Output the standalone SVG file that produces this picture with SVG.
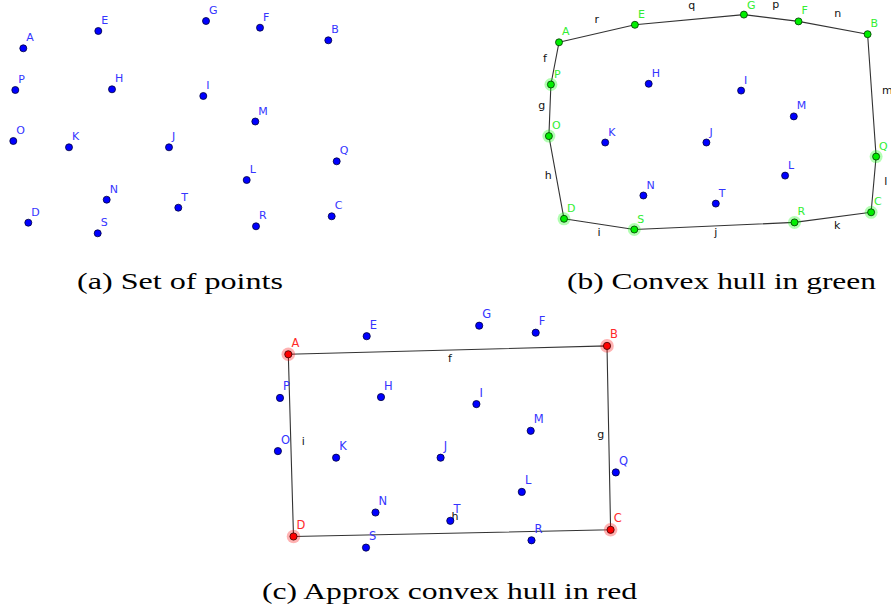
<svg xmlns="http://www.w3.org/2000/svg" width="891" height="609" viewBox="0 0 891 609">
<style>
.bg{fill:#ffffff}
.pt{fill:#0000ff;stroke:#00003a;stroke-width:0.8}
.gp{fill:#00ee00;stroke:#003300;stroke-width:0.8}
.rp{fill:#ff0000;stroke:#3a0000;stroke-width:0.8}
.gh{fill:#00ff00;opacity:0.3}
.rh{fill:#ff0000;opacity:0.3}
.lb{font-family:"DejaVu Sans",sans-serif;font-size:11px;fill:#3535ff}
.lbc{font-family:"DejaVu Sans",sans-serif;font-size:11.5px;fill:#3535ff}
.lg{font-family:"DejaVu Sans",sans-serif;font-size:11px;fill:#33ee33}
.lr{font-family:"DejaVu Sans",sans-serif;font-size:11.5px;fill:#ff2a2a}
.el{font-family:"DejaVu Sans",sans-serif;font-size:11px;fill:#111111;text-anchor:middle}
.hull{fill:none;stroke:#333333;stroke-width:1.1;stroke-linejoin:round}
.cap{font-family:"Liberation Serif","DejaVu Serif",serif;font-size:24px;fill:#000000;text-anchor:middle}
</style>
<rect class="bg" x="0" y="0" width="891" height="609"/>

<!-- connectors -->
<g id="connectors">
  <polygon class="hull" points="559,42.3 634.9,24.8 743.9,14.6 798.5,21.4 867.6,34.2 876.1,156.6 871.1,212.3 794.5,222.4 634.3,229.5 564,218.8 548.9,136.1 550.9,84.5"/>
  <polygon class="hull" points="288.3,354.3 607,345.9 610.6,529.8 293.5,536.5"/>
  <text class="el" x="691.7" y="8.5">q</text>
  <text class="el" x="596.7" y="23">r</text>
  <text class="el" x="775.7" y="8">p</text>
  <text class="el" x="837.7" y="17">n</text>
  <text class="el" x="882" y="94" style="text-anchor:start">m</text>
  <text class="el" x="545" y="61.5">f</text>
  <text class="el" x="541.7" y="108.5">g</text>
  <text class="el" x="548.3" y="179">h</text>
  <text class="el" x="599" y="236">i</text>
  <text class="el" x="715.7" y="235.5">j</text>
  <text class="el" x="837.3" y="229">k</text>
  <text class="el" x="885.7" y="185">l</text>
  <text class="el" x="450" y="361.5">f</text>
  <text class="el" x="600.7" y="437.5">g</text>
  <text class="el" x="455" y="520">h</text>
  <text class="el" x="303.3" y="445">i</text>
</g>

<!-- panel (a) -->
<g id="panel-a">
  <g id="a-A"><circle class="pt" cx="23.3" cy="48.3" r="3.5"/><text class="lb" x="26.3" y="41.3">A</text></g>
  <g id="a-E"><circle class="pt" cx="98.3" cy="31" r="3.5"/><text class="lb" x="101.3" y="24">E</text></g>
  <g id="a-G"><circle class="pt" cx="206" cy="21" r="3.5"/><text class="lb" x="209" y="14">G</text></g>
  <g id="a-F"><circle class="pt" cx="260" cy="27.7" r="3.5"/><text class="lb" x="263" y="20.7">F</text></g>
  <g id="a-B"><circle class="pt" cx="328.3" cy="40.3" r="3.5"/><text class="lb" x="331.3" y="33.3">B</text></g>
  <g id="a-P"><circle class="pt" cx="15.3" cy="90" r="3.5"/><text class="lb" x="18.3" y="83">P</text></g>
  <g id="a-H"><circle class="pt" cx="112" cy="89.3" r="3.5"/><text class="lb" x="115" y="82.3">H</text></g>
  <g id="a-I"><circle class="pt" cx="203.3" cy="96" r="3.5"/><text class="lb" x="206.3" y="89">I</text></g>
  <g id="a-M"><circle class="pt" cx="255.3" cy="121.5" r="3.5"/><text class="lb" x="258.3" y="114.5">M</text></g>
  <g id="a-O"><circle class="pt" cx="13.3" cy="141" r="3.5"/><text class="lb" x="16.3" y="134">O</text></g>
  <g id="a-K"><circle class="pt" cx="69" cy="147.3" r="3.5"/><text class="lb" x="72" y="140.3">K</text></g>
  <g id="a-J"><circle class="pt" cx="169" cy="147.3" r="3.5"/><text class="lb" x="172" y="140.3">J</text></g>
  <g id="a-Q"><circle class="pt" cx="336.7" cy="161.3" r="3.5"/><text class="lb" x="339.7" y="154.3">Q</text></g>
  <g id="a-L"><circle class="pt" cx="246.7" cy="180" r="3.5"/><text class="lb" x="249.7" y="173">L</text></g>
  <g id="a-N"><circle class="pt" cx="106.7" cy="199.7" r="3.5"/><text class="lb" x="109.7" y="192.7">N</text></g>
  <g id="a-T"><circle class="pt" cx="178.3" cy="207.7" r="3.5"/><text class="lb" x="181.3" y="200.7">T</text></g>
  <g id="a-C"><circle class="pt" cx="331.7" cy="216.3" r="3.5"/><text class="lb" x="334.7" y="209.3">C</text></g>
  <g id="a-D"><circle class="pt" cx="28.3" cy="222.7" r="3.5"/><text class="lb" x="31.3" y="215.7">D</text></g>
  <g id="a-R"><circle class="pt" cx="256" cy="226.3" r="3.5"/><text class="lb" x="259" y="219.3">R</text></g>
  <g id="a-S"><circle class="pt" cx="97.7" cy="233.3" r="3.5"/><text class="lb" x="100.7" y="226.3">S</text></g>
</g>

<!-- panel (b) -->
<g id="panel-b">
  <g id="b-A"><circle class="gp" cx="559" cy="42.3" r="3.5"/><text class="lg" x="562" y="35.3">A</text></g>
  <g id="b-E"><circle class="gp" cx="634.9" cy="24.8" r="3.5"/><text class="lg" x="637.9" y="17.8">E</text></g>
  <g id="b-G"><circle class="gp" cx="743.9" cy="14.6" r="3.5"/><text class="lg" x="746.9" y="8.6">G</text></g>
  <g id="b-F"><circle class="gp" cx="798.5" cy="21.4" r="3.5"/><text class="lg" x="801.5" y="14.4">F</text></g>
  <g id="b-B"><circle class="gp" cx="867.6" cy="34.2" r="3.5"/><text class="lg" x="870.6" y="27.2">B</text></g>
  <g id="b-P"><circle class="gh" cx="550.9" cy="84.5" r="6.5"/><circle class="gp" cx="550.9" cy="84.5" r="3.5"/><text class="lg" x="553.9" y="77.5">P</text></g>
  <g id="b-H"><circle class="pt" cx="648.7" cy="83.8" r="3.5"/><text class="lb" x="651.7" y="76.8">H</text></g>
  <g id="b-I"><circle class="pt" cx="741.1" cy="90.6" r="3.5"/><text class="lb" x="744.1" y="83.6">I</text></g>
  <g id="b-M"><circle class="pt" cx="793.8" cy="116.4" r="3.5"/><text class="lb" x="796.8" y="109.4">M</text></g>
  <g id="b-O"><circle class="gh" cx="548.9" cy="136.1" r="6.5"/><circle class="gp" cx="548.9" cy="136.1" r="3.5"/><text class="lg" x="551.9" y="129.1">O</text></g>
  <g id="b-K"><circle class="pt" cx="605.2" cy="142.5" r="3.5"/><text class="lb" x="608.2" y="135.5">K</text></g>
  <g id="b-J"><circle class="pt" cx="706.4" cy="142.5" r="3.5"/><text class="lb" x="709.4" y="135.5">J</text></g>
  <g id="b-Q"><circle class="gh" cx="876.1" cy="156.6" r="6.5"/><circle class="gp" cx="876.1" cy="156.6" r="3.5"/><text class="lg" x="879.1" y="149.6">Q</text></g>
  <g id="b-L"><circle class="pt" cx="785.1" cy="175.6" r="3.5"/><text class="lb" x="788.1" y="168.6">L</text></g>
  <g id="b-N"><circle class="pt" cx="643.4" cy="195.5" r="3.5"/><text class="lb" x="646.4" y="188.5">N</text></g>
  <g id="b-T"><circle class="pt" cx="715.8" cy="203.6" r="3.5"/><text class="lb" x="718.8" y="196.6">T</text></g>
  <g id="b-C"><circle class="gh" cx="871.1" cy="212.3" r="6.5"/><circle class="gp" cx="871.1" cy="212.3" r="3.5"/><text class="lg" x="874.1" y="205.3">C</text></g>
  <g id="b-D"><circle class="gh" cx="564" cy="218.8" r="6.5"/><circle class="gp" cx="564" cy="218.8" r="3.5"/><text class="lg" x="567" y="211.8">D</text></g>
  <g id="b-R"><circle class="gh" cx="794.5" cy="222.4" r="6.5"/><circle class="gp" cx="794.5" cy="222.4" r="3.5"/><text class="lg" x="797.5" y="215.4">R</text></g>
  <g id="b-S"><circle class="gh" cx="634.3" cy="229.5" r="6.5"/><circle class="gp" cx="634.3" cy="229.5" r="3.5"/><text class="lg" x="637.3" y="222.5">S</text></g>
</g>

<!-- panel (c) -->
<g id="panel-c">
  <g id="c-A"><circle class="rh" cx="288.3" cy="354.3" r="6.8"/><circle class="rp" cx="288.3" cy="354.3" r="3.6"/><text class="lr" x="291.4" y="346.7">A</text></g>
  <g id="c-E"><circle class="pt" cx="366.7" cy="336.2" r="3.6"/><text class="lbc" x="369.8" y="328.6">E</text></g>
  <g id="c-G"><circle class="pt" cx="479.2" cy="325.7" r="3.6"/><text class="lbc" x="482.3" y="318.1">G</text></g>
  <g id="c-F"><circle class="pt" cx="535.7" cy="332.7" r="3.6"/><text class="lbc" x="538.8" y="325.1">F</text></g>
  <g id="c-B"><circle class="rh" cx="607" cy="345.9" r="6.8"/><circle class="rp" cx="607" cy="345.9" r="3.6"/><text class="lr" x="610.1" y="338.3">B</text></g>
  <g id="c-P"><circle class="pt" cx="280" cy="397.9" r="3.6"/><text class="lbc" x="283.1" y="390.3">P</text></g>
  <g id="c-H"><circle class="pt" cx="381" cy="397.1" r="3.6"/><text class="lbc" x="384.1" y="389.5">H</text></g>
  <g id="c-I"><circle class="pt" cx="476.4" cy="404.1" r="3.6"/><text class="lbc" x="479.5" y="396.5">I</text></g>
  <g id="c-M"><circle class="pt" cx="530.7" cy="430.8" r="3.6"/><text class="lbc" x="533.8" y="423.2">M</text></g>
  <g id="c-O"><circle class="pt" cx="277.9" cy="451.1" r="3.6"/><text class="lbc" x="281" y="443.5">O</text></g>
  <g id="c-K"><circle class="pt" cx="336.1" cy="457.7" r="3.6"/><text class="lbc" x="339.2" y="450.1">K</text></g>
  <g id="c-J"><circle class="pt" cx="440.6" cy="457.7" r="3.6"/><text class="lbc" x="443.7" y="450.1">J</text></g>
  <g id="c-Q"><circle class="pt" cx="615.8" cy="472.4" r="3.6"/><text class="lbc" x="618.9" y="464.8">Q</text></g>
  <g id="c-L"><circle class="pt" cx="521.8" cy="491.9" r="3.6"/><text class="lbc" x="524.9" y="484.3">L</text></g>
  <g id="c-N"><circle class="pt" cx="375.5" cy="512.5" r="3.6"/><text class="lbc" x="378.6" y="504.9">N</text></g>
  <g id="c-T"><circle class="pt" cx="450.3" cy="520.8" r="3.6"/><text class="lbc" x="453.4" y="513.2">T</text></g>
  <g id="c-C"><circle class="rh" cx="610.6" cy="529.8" r="6.8"/><circle class="rp" cx="610.6" cy="529.8" r="3.6"/><text class="lr" x="613.7" y="522.2">C</text></g>
  <g id="c-D"><circle class="rh" cx="293.5" cy="536.5" r="6.8"/><circle class="rp" cx="293.5" cy="536.5" r="3.6"/><text class="lr" x="296.6" y="528.9">D</text></g>
  <g id="c-R"><circle class="pt" cx="531.5" cy="540.3" r="3.6"/><text class="lbc" x="534.6" y="532.7">R</text></g>
  <g id="c-S"><circle class="pt" cx="366" cy="547.6" r="3.6"/><text class="lbc" x="369.1" y="540">S</text></g>
</g>

<!-- captions -->
<g id="captions">
  <text class="cap" x="180" y="289" textLength="206" lengthAdjust="spacingAndGlyphs">(a) Set of points</text>
  <text class="cap" x="721.5" y="289" textLength="309" lengthAdjust="spacingAndGlyphs">(b) Convex hull in green</text>
  <text class="cap" x="449.5" y="599" textLength="375" lengthAdjust="spacingAndGlyphs">(c) Approx convex hull in red</text>
</g>
</svg>
